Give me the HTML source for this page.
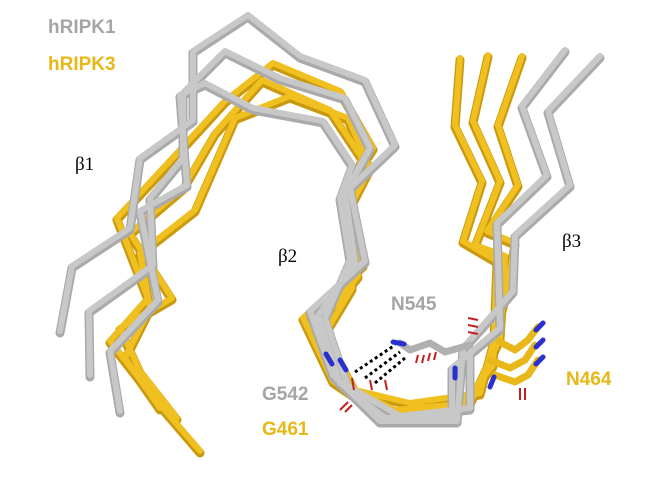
<!DOCTYPE html>
<html><head><style>
body{margin:0;background:#fff;width:655px;height:480px;overflow:hidden;font-family:"Liberation Sans",sans-serif}
svg{position:absolute;left:0;top:0}
.g{stroke:#aaaaaa}.gl{stroke:#c8c8c8}
.y{stroke:#c99a10}.yl{stroke:#f0c020}
polyline{fill:none;stroke-linejoin:round;stroke-linecap:round}
</style></head><body>
<svg width="655" height="480" viewBox="0 0 655 480">
<!-- gold strands -->
<g stroke-width="9">
<polyline class="y" points="200,453 157,403 110,343 148,300 117,220 170,163 225,103 273,65 340,93 373,150 347,190 343,217 363,267 303,320 333,383 383,417 457,413 493,367 497,263 463,243 482,183 455,127 460,60"/>
<polyline class="y" points="177,420 140,373 120,330 172,300 130,235 183,190 215,135 262,82 330,112 362,160 347,200 348,240 358,278 318,328 345,388 395,412 470,405 500,340 505,258 475,247 500,183 473,123 488,57"/>
<polyline class="y" points="160,410 125,360 150,310 140,255 195,212 235,120 290,98 348,120 370,170 352,205 352,255 352,290 325,335 355,392 410,405 480,395 505,300 515,245 487,233 518,187 498,127 522,58"/>
</g>
<g stroke-width="6">
<polyline class="yl" points="200,451 157,401 110,341 148,298 117,218 170,161 225,101 273,63 340,91 373,148 347,188 343,215 363,265 303,318 333,381 383,415 457,411 493,365 497,261 463,241 482,181 455,125 460,58"/>
<polyline class="yl" points="177,418 140,371 120,328 172,298 130,233 183,188 215,133 262,80 330,110 362,158 347,198 348,238 358,276 318,326 345,386 395,410 470,403 500,338 505,256 475,245 500,181 473,121 488,55"/>
<polyline class="yl" points="160,408 125,358 150,308 140,253 195,210 235,118 290,96 348,118 370,168 352,203 352,253 352,288 325,333 355,390 410,403 480,393 505,298 515,243 487,231 518,185 498,125 522,56"/>
</g>
<!-- gray strands -->
<g stroke-width="9">
<polyline class="g" points="60,333 72,268 130,230 140,160 193,122 193,53 248,17 300,58 365,82 395,147 350,190 365,263 310,313 333,377 380,423 457,423 463,350 487,323 513,293 515,237 570,187 548,113 600,58"/>
<polyline class="g" points="90,377 89,313 153,267 150,200 183,160 183,95 225,53 280,80 345,100 370,150 345,195 355,265 318,318 340,385 385,420 452,418 452,370 500,330 497,225 547,177 522,108 565,52"/>
<polyline class="g" points="120,413 110,353 158,302 140,213 187,187 180,97 205,85 253,110 323,123 352,167 340,200 350,262 325,320 348,388 400,418 470,410 470,355"/>
</g>
<g stroke-width="6">
<polyline class="gl" points="60,331 72,266 130,228 140,158 193,120 193,51 248,15 300,56 365,80 395,145 350,188 365,261 310,311 333,375 380,421 457,421 463,348 487,321 513,291 515,235 570,185 548,111 600,56"/>
<polyline class="gl" points="90,375 89,311 153,265 150,198 183,158 183,93 225,51 280,78 345,98 370,148 345,193 355,263 318,316 340,383 385,418 452,416 452,368 500,328 497,223 547,175 522,106 565,50"/>
<polyline class="gl" points="120,411 110,351 158,300 140,211 187,185 180,95 205,83 253,108 323,121 352,165 340,198 350,260 325,318 348,386 400,416 470,408 470,353"/>
</g>
<!-- side chains -->
<g stroke-width="7" stroke-linecap="round" fill="none">
<polyline stroke="#b0b0b0" points="400,343 410,350 430,343 445,352 470,345"/>
<polyline stroke="#e8b718" points="490,360 510,368 525,360 535,345"/>
<polyline stroke="#e8b718" points="495,375 515,382 528,375 538,360"/>
<polyline stroke="#e8b718" points="500,342 515,350 528,340 538,327"/>
</g>
<g stroke="#000" stroke-width="3" stroke-dasharray="3,3">
<line x1="355" y1="372" x2="395" y2="345"/><line x1="365" y1="378" x2="400" y2="352"/><line x1="375" y1="383" x2="405" y2="358"/>
</g>
<g stroke-width="5" stroke-linecap="round">
<line x1="326" y1="354" x2="332" y2="364" stroke="#2830d0"/>
<line x1="340" y1="360" x2="346" y2="370" stroke="#2830d0"/>
<line x1="393" y1="342" x2="404" y2="344" stroke="#2830d0"/>
<line x1="455" y1="368" x2="455" y2="378" stroke="#2830d0"/>
<line x1="490" y1="387" x2="494" y2="377" stroke="#2830d0"/>
<line x1="536" y1="330" x2="543" y2="323" stroke="#2830d0"/>
<line x1="536" y1="347" x2="543" y2="340" stroke="#2830d0"/>
<line x1="536" y1="364" x2="543" y2="357" stroke="#2830d0"/>
</g>
<g stroke="#c02020" stroke-width="2">
<line x1="352" y1="378" x2="354" y2="390"/><line x1="370" y1="380" x2="372" y2="390"/><line x1="385" y1="380" x2="387" y2="390"/>
<line x1="340" y1="410" x2="348" y2="402"/><line x1="345" y1="412" x2="352" y2="405"/>
<line x1="418" y1="355" x2="416" y2="363"/><line x1="424" y1="355" x2="422" y2="363"/><line x1="430" y1="353" x2="428" y2="361"/><line x1="436" y1="352" x2="434" y2="360"/>
<line x1="468" y1="318" x2="478" y2="320"/><line x1="468" y1="325" x2="478" y2="327"/><line x1="468" y1="332" x2="478" y2="334"/>
<line x1="520" y1="388" x2="520" y2="400"/><line x1="525" y1="388" x2="525" y2="400"/>
</g>
<g font-weight="bold" font-size="19">
<text x="48" y="33" fill="#a5a5a5">hRIPK1</text>
<text x="48" y="70" fill="#e8b718">hRIPK3</text>
<text x="391" y="310" fill="#a5a5a5">N545</text>
<text x="262" y="400" fill="#a5a5a5">G542</text>
<text x="262" y="435" fill="#e8b718">G461</text>
<text x="566" y="385" fill="#e8b718">N464</text>
</g>
<g font-family="Liberation Serif,serif" font-size="19" fill="#000">
<text x="75" y="170">β1</text>
<text x="278" y="262">β2</text>
<text x="562" y="247">β3</text>
</g>
</svg>
</body></html>
